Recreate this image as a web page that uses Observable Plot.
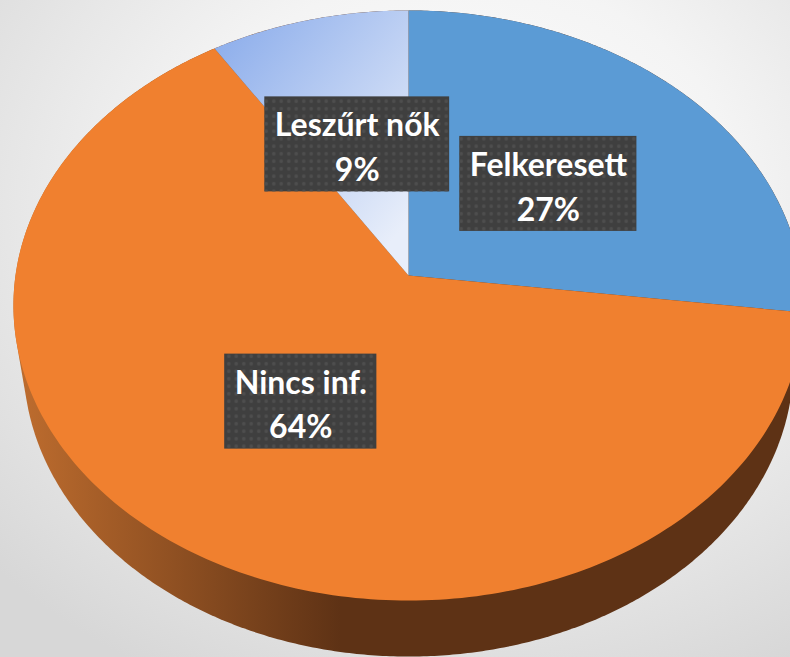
<!DOCTYPE html>
<html><head><meta charset="utf-8">
<script src="https://cdn.jsdelivr.net/npm/d3@7"></script>
<script src="https://cdn.jsdelivr.net/npm/@observablehq/plot@0.6"></script>
<style>
html,body{margin:0;padding:0;overflow:hidden;background:#fff;}
#chart svg{display:block;}
</style></head><body><div id="chart"></div>
<script>
// ---- data ----
const categories = ["Felkeresett", "Nincs inf.", "Leszűrt nők"];
const values = [27, 64, 9];
const sliceFills = ["#5B9BD5", "#F0802F", "url(#gradLight)"];

// ---- layout (perspective 3D pie) ----
const W = 790, H = 657;
const cx = 408, cy = 275, F = 2586, L = 6.58, sa = 0.743, ca = Math.sqrt(1 - sa * sa), thick = 0.2286;
function proj(r, a, z = 0) {
  const u = r * Math.sin(a), w = r * Math.cos(a);
  const depth = L + w * ca - z * sa;
  return [cx + F * u / depth, cy - F * (w * sa + z * ca) / depth];
}
const arcs = d3.pie().sort(null).value(d => d)(values);
function slicePoly(a0, a1) {
  const pts = [proj(0, 0)];
  const n = Math.max(4, Math.ceil((a1 - a0) / (2 * Math.PI) * 360));
  for (let i = 0; i <= n; i++) pts.push(proj(1, a0 + (a1 - a0) * i / n));
  return pts.map(([x, y]) => ({x, y}));
}
const rim = [];
for (let i = 0; i < 720; i++) {
  const a = i / 720 * 2 * Math.PI;
  rim.push(proj(1, a, 0), proj(1, a, -thick));
}
const hull = d3.polygonHull(rim).map(([x, y]) => ({x, y}));

// label boxes
const fontSize = 32;
const ctx = document.createElement("canvas").getContext("2d");
ctx.font = `bold ${fontSize}px Lato`;
const labels = arcs.map((d, i) => {
  const mid = (d.startAngle + d.endAngle) / 2;
  const [x, y] = proj(0.49, mid);
  const l1 = categories[i], l2 = values[i] + "%";
  const tw = Math.max(ctx.measureText(l1).width, ctx.measureText(l2).width);
  const bw = tw + 20, bh = 95;
  return {x, y, text: l1 + "\n" + l2, x1: x - bw / 2, x2: x + bw / 2, y1: y - bh / 2, y2: y + bh / 2};
});

const sliceMarks = arcs.map((d, i) =>
  Plot.line(slicePoly(d.startAngle, d.endAngle), {x: "x", y: "y", curve: "linear-closed", fill: sliceFills[i], stroke: "none"})
);

const plot = Plot.plot({
  width: W, height: H, margin: 0,
  x: {domain: [0, W], range: [0, W], axis: null},
  y: {domain: [0, H], range: [0, H], axis: null},
  style: {background: "radial-gradient(ellipse 80% 80% at 58% 32%, #FFFFFF 0%, #F4F4F4 45%, #D7D7D7 100%)", overflow: "hidden"},
  marks: [
    Plot.line(hull, {x: "x", y: "y", curve: "linear-closed", fill: "#5a5a5a", stroke: "none", dy: 12, ariaLabel: "pie-shadow"}),
    Plot.line(hull, {x: "x", y: "y", curve: "linear-closed", fill: "url(#gradSide)", stroke: "none"}),
    ...sliceMarks,
    Plot.rect(labels, {x1: "x1", x2: "x2", y1: "y1", y2: "y2", fill: "#3F3F3F", ariaLabel: "label-box"}),
    Plot.rect(labels, {x1: "x1", x2: "x2", y1: "y1", y2: "y2", fill: "url(#dots)", ariaLabel: "label-dots"}),
    Plot.text(labels, {x: "x", y: "y", text: "text", fill: "white", fontSize, fontWeight: "bold", fontFamily: "Lato", lineHeight: 1.4})
  ]
});

const svg = d3.select(plot);
const defs = svg.insert("defs", ":first-child");
const gl = defs.append("linearGradient").attr("id", "gradLight").attr("gradientUnits", "userSpaceOnUse")
  .attr("x1", 200).attr("y1", 50).attr("x2", 408).attr("y2", 220);
gl.append("stop").attr("offset", 0).attr("stop-color", "#8CADEB");
gl.append("stop").attr("offset", 1).attr("stop-color", "#E8EEFA");
const gs = defs.append("linearGradient").attr("id", "gradSide").attr("gradientUnits", "userSpaceOnUse")
  .attr("x1", 20).attr("y1", 0).attr("x2", 340).attr("y2", 0);
gs.append("stop").attr("offset", 0).attr("stop-color", "#BD6C2E");
gs.append("stop").attr("offset", 1).attr("stop-color", "#5E3215");
const pat = defs.append("pattern").attr("id", "dots").attr("patternUnits", "userSpaceOnUse").attr("width", 7.5).attr("height", 7.5);
pat.append("circle").attr("cx", 3.75).attr("cy", 3.75).attr("r", 1.8).attr("fill", "#4E4E4E");
const fb = defs.append("filter").attr("id", "blur").attr("x", "-20%").attr("y", "-20%").attr("width", "140%").attr("height", "140%");
fb.append("feGaussianBlur").attr("stdDeviation", 11);
const fd = defs.append("filter").attr("id", "drop").attr("x", "-20%").attr("y", "-20%").attr("width", "140%").attr("height", "140%");
fd.append("feDropShadow").attr("dx", 4).attr("dy", 5).attr("stdDeviation", 3).attr("flood-color", "#000").attr("flood-opacity", 0.55);
const fs = defs.append("filter").attr("id", "soft");
fs.append("feGaussianBlur").attr("stdDeviation", 0.6);
svg.select('g[aria-label="pie-shadow"]').attr("filter", "url(#blur)").attr("opacity", 0.85);
svg.select('g[aria-label="label-box"]').attr("filter", "url(#drop)");
svg.select('g[aria-label="label-dots"]').attr("filter", "url(#soft)");

document.getElementById("chart").append(plot);
</script></body></html>
